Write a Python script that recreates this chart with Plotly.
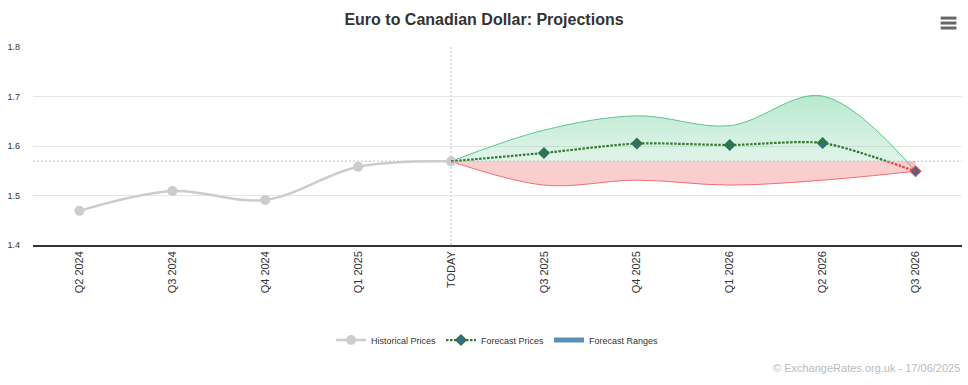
import plotly.graph_objects as go

categories = ["Q2 2024", "Q3 2024", "Q4 2024", "Q1 2025", "TODAY",
              "Q3 2025", "Q4 2025", "Q1 2026", "Q2 2026", "Q3 2026"]
hist_cats = categories[:5]
hist_vals = [1.469, 1.509, 1.491, 1.558, 1.569]
fc_cats = categories[4:]
fc_vals = [1.569, 1.586, 1.605, 1.602, 1.606, 1.549]
fc_upper = [1.569, 1.632, 1.661, 1.641, 1.701, 1.549]
fc_lower = [1.569, 1.521, 1.531, 1.521, 1.531, 1.549]
threshold = hist_vals[-1]
y_ticks = [1.4, 1.5, 1.6, 1.7, 1.8]
y_min, y_max = 1.4, 1.8

FONT = "Liberation Sans, Arial, Helvetica, sans-serif"
GREEN_LINE = "#5cc58f"
RED_LINE = "#ef6f6f"
FC_LINE = "#2f7a2c"
FC_RED = "#ee4040"
DIAMOND = "#2f6a94"
FC_DASH = "2.5px,1.5px"

fig = go.Figure()

# green fill (upper range)
fig.add_trace(go.Scatter(x=fc_cats, y=[threshold] * len(fc_cats), mode="lines",
                         line=dict(width=0, color="rgba(0,0,0,0)"),
                         showlegend=False, hoverinfo="skip"))
fig.add_trace(go.Scatter(x=fc_cats, y=fc_upper, mode="lines",
                         line=dict(color=GREEN_LINE, width=1, shape="spline", smoothing=1.0),
                         fill="tonexty",
                         fillgradient=dict(type="vertical",
                                           colorscale=[[0, "rgba(60,190,120,0.12)"],
                                                       [1, "rgba(60,190,120,0.36)"]]),
                         showlegend=False, hoverinfo="skip"))
# red fill (lower range)
fig.add_trace(go.Scatter(x=fc_cats, y=[threshold] * len(fc_cats), mode="lines",
                         line=dict(width=0, color="rgba(0,0,0,0)"),
                         showlegend=False, hoverinfo="skip"))
fig.add_trace(go.Scatter(x=fc_cats, y=fc_lower, mode="lines",
                         line=dict(color=RED_LINE, width=1, shape="spline", smoothing=1.0),
                         fill="tonexty", fillcolor="rgba(240,120,120,0.36)",
                         showlegend=False, hoverinfo="skip"))

# historical
fig.add_trace(go.Scatter(x=hist_cats, y=hist_vals, mode="lines+markers",
                         name="Historical Prices",
                         line=dict(color="#cccccc", width=2.5, shape="spline", smoothing=1.0),
                         marker=dict(color="#cccccc", size=10, symbol="circle")))

# forecast line: green part above threshold (clipped axis y2), red part below (y3)
fig.add_trace(go.Scatter(x=fc_cats, y=fc_vals, mode="lines", yaxis="y3",
                         line=dict(color=FC_RED, width=2.2, shape="spline", smoothing=0.7,
                                   dash=FC_DASH),
                         showlegend=False, hoverinfo="skip"))
fig.add_trace(go.Scatter(x=fc_cats, y=fc_vals, mode="lines", yaxis="y2",
                         line=dict(color=FC_LINE, width=2.2, shape="spline", smoothing=0.7,
                                   dash=FC_DASH),
                         showlegend=False, hoverinfo="skip"))
# forecast markers
marker_line = [FC_LINE if v >= threshold else FC_RED for v in fc_vals[1:]]
fig.add_trace(go.Scatter(x=fc_cats[1:], y=fc_vals[1:], mode="markers",
                         marker=dict(symbol="diamond", size=8, color=DIAMOND,
                                     line=dict(color=marker_line, width=1.2)),
                         showlegend=False))
# legend entries
fig.add_trace(go.Scatter(x=[None], y=[None], mode="lines+markers", name="Forecast Prices",
                         line=dict(color=FC_LINE, width=2.2, dash=FC_DASH),
                         marker=dict(symbol="diamond", size=8, color=DIAMOND,
                                     line=dict(color=FC_LINE, width=1.2))))
fig.add_trace(go.Scatter(x=[None], y=[None], mode="lines", name="Forecast Ranges",
                         line=dict(color="#5a8fb8", width=5)))

frac = (threshold - y_min) / (y_max - y_min)

shapes = [
    dict(type="line", xref="paper", yref="y", x0=0, x1=1, y0=threshold, y1=threshold,
         line=dict(color="#d4d4dc", width=1.5, dash="2px,2px"), layer="below"),
    dict(type="line", xref="x", yref="paper", x0="TODAY", x1="TODAY", y0=0, y1=1,
         line=dict(color="#d4d4dc", width=1.5, dash="2px,2px"), layer="below"),
]
# hamburger menu icon
for yy in (1.146, 1.121, 1.096):
    shapes.append(dict(type="line", xref="paper", yref="paper", x0=0.977, x1=0.994,
                       y0=yy, y1=yy, line=dict(color="#666666", width=3)))

fig.update_layout(
    width=968, height=385,
    margin=dict(l=33, r=6, t=47, b=140),
    paper_bgcolor="white", plot_bgcolor="rgba(0,0,0,0)",
    font=dict(family=FONT, color="#333333"),
    title=dict(text="<b>Euro to Canadian Dollar: Projections</b>", x=0.5, xanchor="center",
               y=0.95, yanchor="middle", font=dict(size=16, color="#333333")),
    xaxis=dict(type="category", categoryorder="array", categoryarray=categories,
               range=[-0.5, 9.5], showgrid=False, showline=True, linecolor="#333333",
               linewidth=1.5, tickangle=-90, tickfont=dict(size=11, color="#333333"),
               ticks="", zeroline=False, fixedrange=True),
    yaxis=dict(range=[y_min, y_max], tickvals=y_ticks, ticktext=[f"{t:.1f}" for t in y_ticks],
               showgrid=True, gridcolor="#e6e6e6", gridwidth=1, zeroline=False,
               tickfont=dict(size=9, color="#333333"), ticks="", ticklabelstandoff=12,
               showline=False),
    yaxis2=dict(domain=[frac, 1], range=[threshold, y_max], visible=False, anchor="x"),
    yaxis3=dict(domain=[0, frac], range=[y_min, threshold], visible=False, anchor="x"),
    legend=dict(orientation="h", x=0.5, xanchor="center", y=-0.48, yanchor="middle",
                font=dict(size=9, color="#333333"), traceorder="normal"),
    shapes=shapes,
    annotations=[dict(text="© ExchangeRates.org.uk - 17/06/2025", xref="paper", yref="paper",
                      x=1.0, y=-0.62, xanchor="right", yanchor="middle", showarrow=False,
                      font=dict(size=11, color="#bbbbbb"))],
    showlegend=True,
)

fig.write_html("out.html", config={"displayModeBar": False},
               post_script="document.body.style.margin='0';")
